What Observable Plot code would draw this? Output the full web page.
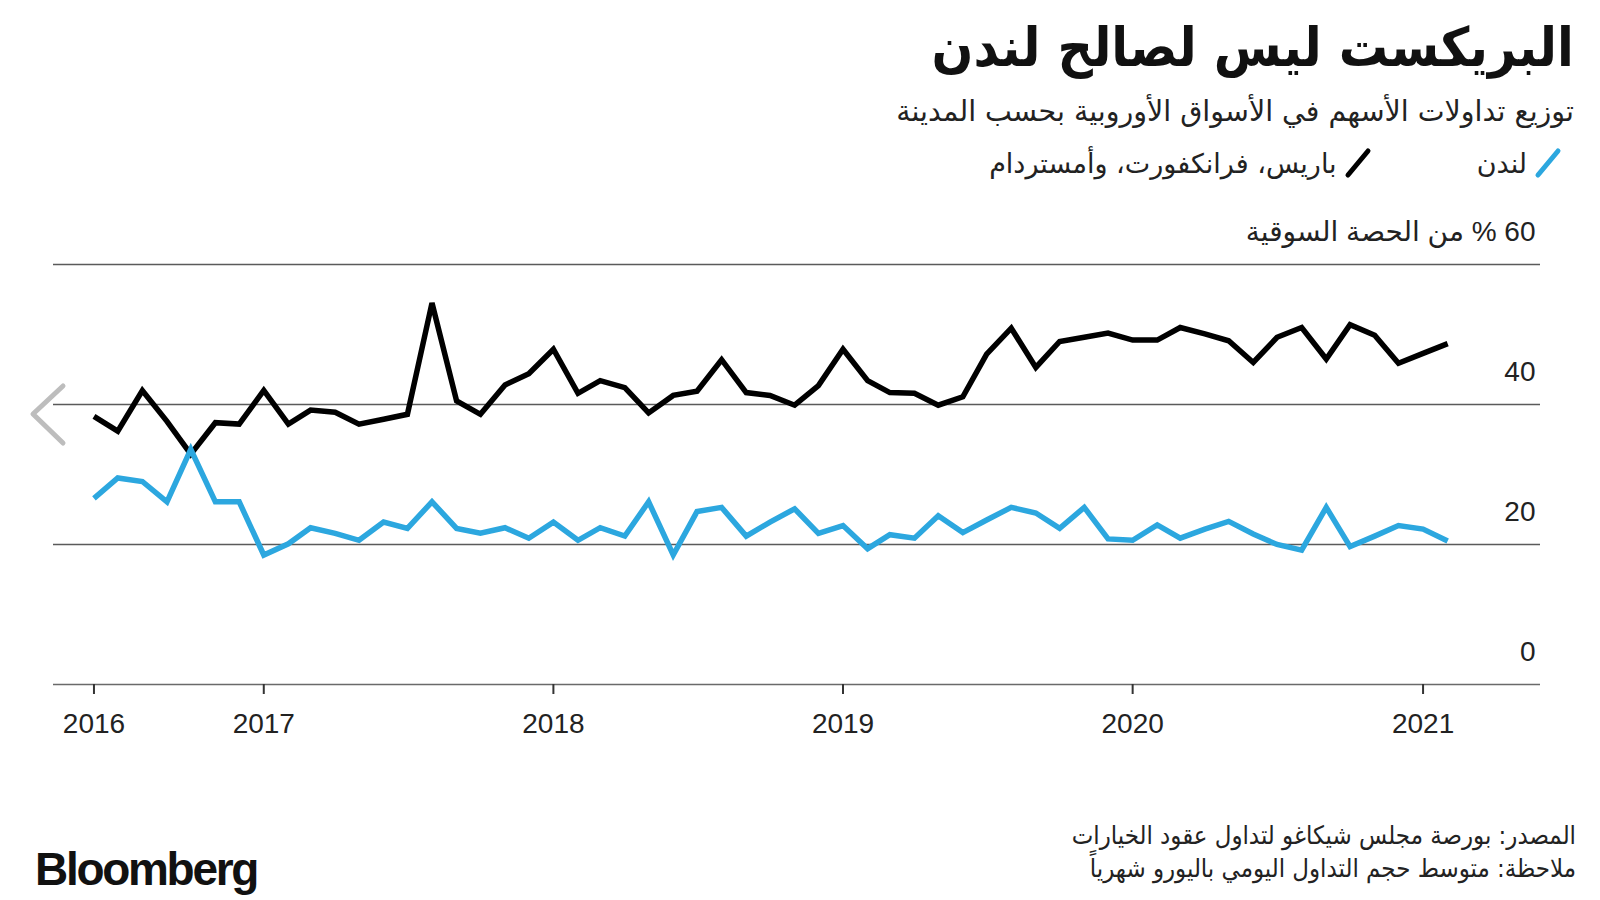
<!DOCTYPE html>
<html lang="ar">
<head>
<meta charset="utf-8">
<script src="https://cdn.jsdelivr.net/npm/d3@7"></script>
<script src="https://cdn.jsdelivr.net/npm/@observablehq/plot@0.6"></script>
<style>
  html, body { margin: 0; padding: 0; background: #fff; }
  body { width: 1600px; height: 900px; position: relative; overflow: hidden; font-family: "DejaVu Sans", sans-serif; color: #111; }
  .abs { position: absolute; white-space: nowrap; }
  #title { right: 26px; top: 16px; font: bold 54px "DejaVu Sans", sans-serif; direction: rtl; line-height: 1.2; color: #111; transform: scaleX(0.91); transform-origin: right center; }
  #subtitle { right: 26px; top: 95px; font: 28.5px "DejaVu Sans", sans-serif; direction: rtl; line-height: 1.2; color: #222; }
  #legend { right: 38px; top: 147px; display: flex; direction: rtl; align-items: center; font: 27px "DejaVu Sans", sans-serif; color: #222; }
  .item { display: flex; align-items: center; gap: 7px; }
  .item + .item { margin-right: 105px; }
  #chart { left: 0; top: 190px; }
  #foot { right: 24px; top: 819px; font: 25.5px "DejaVu Sans Condensed", "DejaVu Sans", sans-serif; direction: rtl; text-align: right; line-height: 33px; color: #222; }
  #logo { left: 35px; top: 842px; font: bold 46px "Liberation Sans", Arial, sans-serif; letter-spacing: -2.3px; color: #111; }
  #chev { left: 28px; top: 380px; }
</style>
</head>
<body>
<div id="title" class="abs">البريكست ليس لصالح لندن</div>
<div id="subtitle" class="abs">توزيع تداولات الأسهم في الأسواق الأوروبية بحسب المدينة</div>
<div id="legend" class="abs"></div>
<div id="chart" class="abs"></div>
<svg id="chev" class="abs" width="42" height="70" viewBox="0 0 42 70">
  <polyline points="35,6 5,34 35,63" fill="none" stroke="#bdbdbd" stroke-width="5" stroke-linecap="round" stroke-linejoin="round"/>
</svg>
<div id="foot" class="abs">المصدر: بورصة مجلس شيكاغو لتداول عقود الخيارات<br>ملاحظة: متوسط حجم التداول اليومي باليورو شهرياً</div>
<div id="logo" class="abs">Bloomberg</div>

<script>
// ---------- data ----------
const months = [
  "2016-06","2016-07","2016-08","2016-09","2016-10","2016-11","2016-12",
  "2017-01","2017-02","2017-03","2017-04","2017-05","2017-06","2017-07","2017-08","2017-09","2017-10","2017-11","2017-12",
  "2018-01","2018-02","2018-03","2018-04","2018-05","2018-06","2018-07","2018-08","2018-09","2018-10","2018-11","2018-12",
  "2019-01","2019-02","2019-03","2019-04","2019-05","2019-06","2019-07","2019-08","2019-09","2019-10","2019-11","2019-12",
  "2020-01","2020-02","2020-03","2020-04","2020-05","2020-06","2020-07","2020-08","2020-09","2020-10","2020-11","2020-12",
  "2021-01","2021-02"
];
const londonShare = [
  26.6, 29.5, 29.0, 26.1, 33.6, 26.1, 26.1,
  18.5, 20.1, 22.4, 21.6, 20.6, 23.2, 22.3, 26.1, 22.3, 21.6, 22.4, 20.9,
  23.2, 20.6, 22.4, 21.2, 26.1, 18.5, 24.7, 25.3, 21.2, 23.2, 25.1, 21.6,
  22.7, 19.4, 21.4, 20.9, 24.1, 21.7, 23.5, 25.3, 24.5, 22.3, 25.3, 20.8,
  20.6, 22.8, 20.9, 22.2, 23.3, 21.5, 20.0, 19.2, 25.3, 19.7, 21.2, 22.7,
  22.2, 20.5
];
const continentShare = [
  38.3, 36.2, 42.0, 37.6, 32.9, 37.4, 37.2,
  42.0, 37.2, 39.2, 38.9, 37.2, 37.9, 38.6, 54.5, 40.5, 38.6, 42.8, 44.4,
  47.9, 41.6, 43.4, 42.4, 38.8, 41.3, 41.9, 46.4, 41.7, 41.3, 39.9, 42.7,
  47.9, 43.4, 41.7, 41.6, 39.9, 41.1, 47.2, 50.9, 45.3, 49.0, 49.6, 50.2,
  49.2, 49.2, 51.0, 50.1, 49.1, 46.0, 49.6, 51.0, 46.5, 51.4, 49.9, 45.9,
  47.3, 48.7
];
const seriesNames = ["لندن", "باريس، فرانكفورت، وأمستردام"];
const seriesColors = ["#2ca7df", "#000000"];
const xTicks = ["2016-06", "2017-01", "2018-01", "2019-01", "2020-01", "2021-01"];
const yTicks = [0, 20, 40];
const yGrid = [20, 40, 60];
const yTopLabel = "60 % من الحصة السوقية";

// ---------- build ----------
const parse = s => new Date(s + "-01T00:00:00Z");
const rows = [];
months.forEach((m, i) => {
  rows.push({date: parse(m), value: continentShare[i], series: seriesNames[1]});
});
months.forEach((m, i) => {
  rows.push({date: parse(m), value: londonShare[i], series: seriesNames[0]});
});

// legend
const legend = document.getElementById("legend");
seriesNames.forEach((name, i) => {
  const it = document.createElement("div");
  it.className = "item";
  it.innerHTML = `<svg width="28" height="32" viewBox="0 0 28 32"><line x1="4" y1="28" x2="24" y2="4" stroke="${seriesColors[i]}" stroke-width="5" stroke-linecap="round"/></svg><span>${name}</span>`;
  legend.appendChild(it);
});

const yLabelRows = yTicks.map(v => ({v, label: String(v)})).concat([{v: 60, label: "\u202B" + yTopLabel + "\u202C"}]);

const chart = Plot.plot({
  width: 1600,
  height: 570,
  marginTop: 74,
  marginBottom: 76,
  marginLeft: 53,
  marginRight: 60,
  x: {type: "utc", domain: [new Date("2016-04-11T00:00:00Z"), new Date("2021-05-29T00:00:00Z")]},
  y: {domain: [0, 60], axis: null},
  color: {domain: seriesNames, range: seriesColors},
  style: {fontFamily: "'Liberation Sans', Arial, sans-serif", fontSize: "28px", color: "#222", background: "#fff", overflow: "visible"},
  marks: [
    Plot.ruleY(yGrid, {stroke: "#5a5a5a", strokeWidth: 1.3}),
    Plot.ruleY([0], {stroke: "#6a6a6a", strokeWidth: 1.6}),
    Plot.axisX({
      ticks: xTicks.map(parse),
      tickFormat: d => String(d.getUTCFullYear()),
      tickSize: 10,
      tickPadding: 19,
      stroke: "#333",
      strokeWidth: 2,
      fill: "#222",
      fontSize: 28,
      label: null
    }),
    Plot.text(yLabelRows, {
      y: "v",
      text: "label",
      frameAnchor: "right",
      textAnchor: "end",
      dx: -5,
      dy: -32,
      fontSize: 28,
      fill: "#222",
      fontFamily: "'Liberation Sans', 'DejaVu Sans', Arial, sans-serif"
    }),
    Plot.line(rows.filter(r => r.series === seriesNames[1]), {
      x: "date", y: "value", stroke: "series", strokeWidth: 5.5,
      strokeLinejoin: "miter", strokeMiterlimit: 3, strokeLinecap: "butt"
    }),
    Plot.line(rows.filter(r => r.series === seriesNames[0]), {
      x: "date", y: "value", stroke: "series", strokeWidth: 5.5,
      strokeLinejoin: "miter", strokeMiterlimit: 3, strokeLinecap: "butt"
    })
  ]
});
document.getElementById("chart").appendChild(chart);
</script>
</body>
</html>
